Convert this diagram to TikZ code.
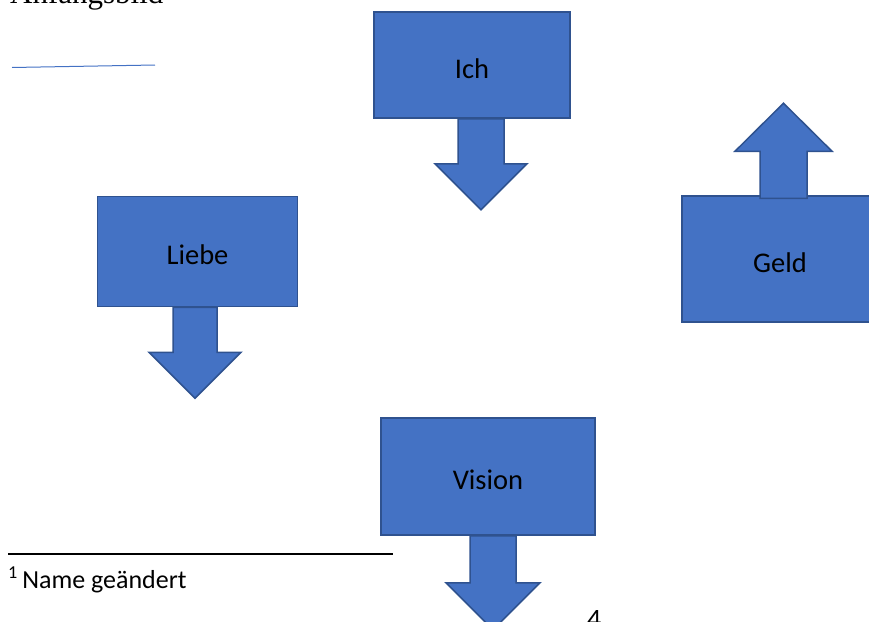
\documentclass[tikz,border=0pt]{standalone}
\usepackage{fontspec}
\setmainfont{Liberation Serif}
\newfontfamily\calibri{Carlito}
\usetikzlibrary{calc}
\definecolor{boxblue}{HTML}{4472C4}
\definecolor{boxline}{HTML}{2F528F}

\begin{document}
\begin{tikzpicture}[x=1pt, y=-1pt,
  box/.style={draw=boxline, fill=boxblue, line width=1.5pt, text height=26pt, text depth=0pt, font=\calibri\fontsize{28.5}{34}\selectfont},
  blk/.style={draw=boxline, fill=boxblue, line width=1.5pt, line join=miter}]
\useasboundingbox (0,0) rectangle (869,621);

\node[anchor=base west, inner sep=0pt, font=\fontsize{31}{36}\selectfont] (title) at (10,4) {Anfangsbild};
\draw[boxblue, line width=1pt] (12,67.5) -- (155,65);

% boxes
\node[box, minimum width=196pt, minimum height=106pt] (ich) at (472,65) {Ich};
\node[box, minimum width=200pt, minimum height=110pt] (liebe) at (197.5,251.5) {Liebe};
\node[box, minimum width=196pt, minimum height=126pt] (geld) at (780,259) {Geld};
\node[box, minimum width=214pt, minimum height=117pt] (vision) at (488,476.5) {Vision};

% block arrows
\draw[blk] ($(ich.south)+(-14,0)$) -- ++(0,45) -- ++(-23,0) -- ++(46,46) -- ++(46,-46) -- ++(-23,0) -- ++(0,-45) -- cycle;
\draw[blk] ($(liebe.south)+(-24.5,0)$) -- ++(0,45) -- ++(-24,0) -- ++(46,46) -- ++(46,-46) -- ++(-24,0) -- ++(0,-45) -- cycle;
\draw[blk] ($(vision.south)+(-18,0)$) -- ++(0,47) -- ++(-24,0) -- ++(47,47) -- ++(47,-47) -- ++(-24,0) -- ++(0,-47) -- cycle;
\draw[blk] ($(geld.north)+(-20,3)$) -- ++(0,-47) -- ++(-25,0) -- ++(48.5,-48) -- ++(48.5,48) -- ++(-25,0) -- ++(0,47) -- cycle;

% footnote
\draw[line width=2pt] (8,554) -- (393,554);
\node[anchor=base west, inner sep=0pt, font=\calibri\fontsize{26}{30}\selectfont] (fn) at (8,588) {\textsuperscript{1}\,Name geändert};
\node[anchor=base west, inner sep=0pt, font=\calibri\fontsize{28}{34}\selectfont] (page) at (587,628) {4};
\end{tikzpicture}
\end{document}
